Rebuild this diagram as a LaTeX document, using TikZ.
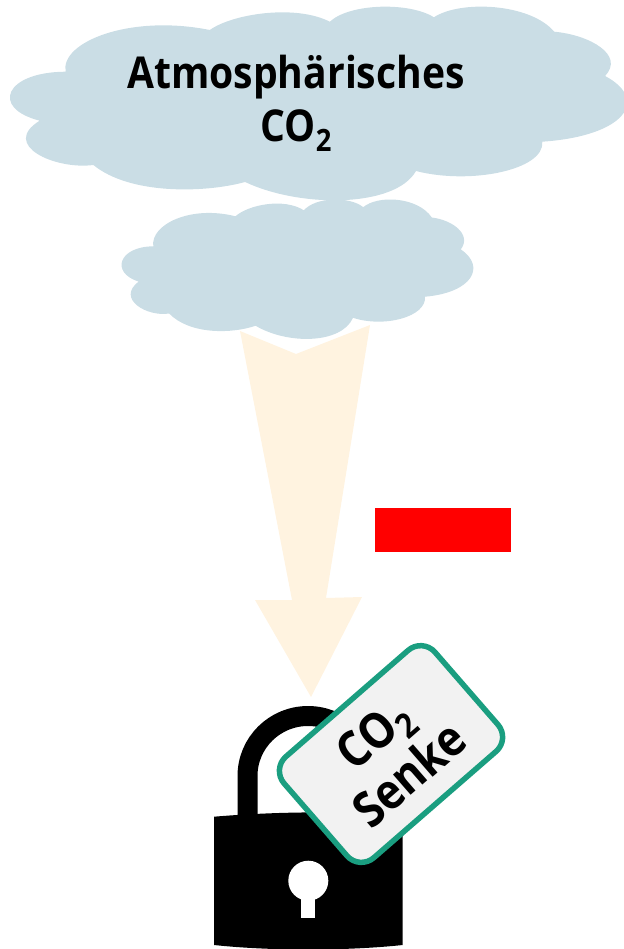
\documentclass[tikz,border=0pt]{standalone}
\usepackage{fontspec}
\setmainfont[FakeStretch=0.89]{Open Sans}
\usetikzlibrary{positioning}
\definecolor{scloud}{HTML}{CADDE5}
\definecolor{sarrow}{HTML}{FFF3E0}
\definecolor{steal}{HTML}{1A9E80}
\definecolor{stag}{HTML}{F2F2F2}
\newcommand{\cotwo}{CO\raisebox{-0.42ex}{\fontsize{0.7em}{0.7em}\selectfont 2}}
\newcommand{\cloudoutline}{
  (65.6,71.7) .. controls (60,42) and (130,14) .. (209.8,30)
  .. controls (232,14) and (295,4) .. (329.8,21.7)
  .. controls (350,3) and (410,2) .. (433.9,17.3)
  .. controls (460,0) and (530,3) .. (554.2,31.7)
  .. controls (590,35) and (625,55) .. (605.1,76)
  .. controls (650,100) and (625,136) .. (542.3,141.7)
  .. controls (545,170) and (470,185) .. (416,171)
  .. controls (395,208) and (300,208) .. (245.1,182)
  .. controls (205,193) and (130,195) .. (93.4,165)
  .. controls (55,170) and (0,145) .. (39.7,120.7)
  .. controls (-10,108) and (5,72) .. (65.6,71.7) -- cycle
}
\tikzset{
  cloudfill/.style={fill=scloud, draw=none},
  headline/.style={font=\fontsize{25}{30}\selectfont\bfseries, align=center, text=black},
  taglabel/.style={
    draw=steal, fill=stag, line width=0.11cm, rounded corners=0.38cm,
    minimum width=4cm, minimum height=2.68cm, inner sep=0pt, align=center,
    rotate=41, font=\fontsize{28}{31}\selectfont\bfseries
  }
}
\begin{document}
\begin{tikzpicture}[x=0.02cm,y=-0.02cm]
  \useasboundingbox (0,0) rectangle (623,949);
  % flow arrow, clouds sit on top of it
  \fill[sarrow] (240,331) -- (296,354) -- (370,325) -- (326,598) -- (362,597)
    -- (311,697) -- (255,600) -- (292,600) -- cycle;
  \fill[cloudfill] \cloudoutline;
  \begin{scope}[shift={(115.9,194.7)},xscale=0.57,yscale=0.72]
    \fill[cloudfill] \cloudoutline;
  \end{scope}
  \node[headline] (atmo) at (296,103) {Atmosphärisches\\\cotwo};
  \fill[red] (375,508) rectangle (511,552);
  % padlock
  \draw[line width=0.4cm] (247.5,820) -- (247.5,776)
    arc[start angle=180, end angle=0, x radius=60.5, y radius=-60] -- (368.5,820);
  \fill (214,816.7) .. controls (270,812) and (346,810) .. (402.7,816.7)
    -- (402.7,945) .. controls (346,951) and (270,951) .. (214,945) -- cycle;
  \fill[white] (308.3,880.7) circle[radius=20];
  \fill[white] (301.3,890) rectangle (315,918.3);
  \node[taglabel] (tag) at (391,754) {\cotwo\\Senke};
\end{tikzpicture}
\end{document}
